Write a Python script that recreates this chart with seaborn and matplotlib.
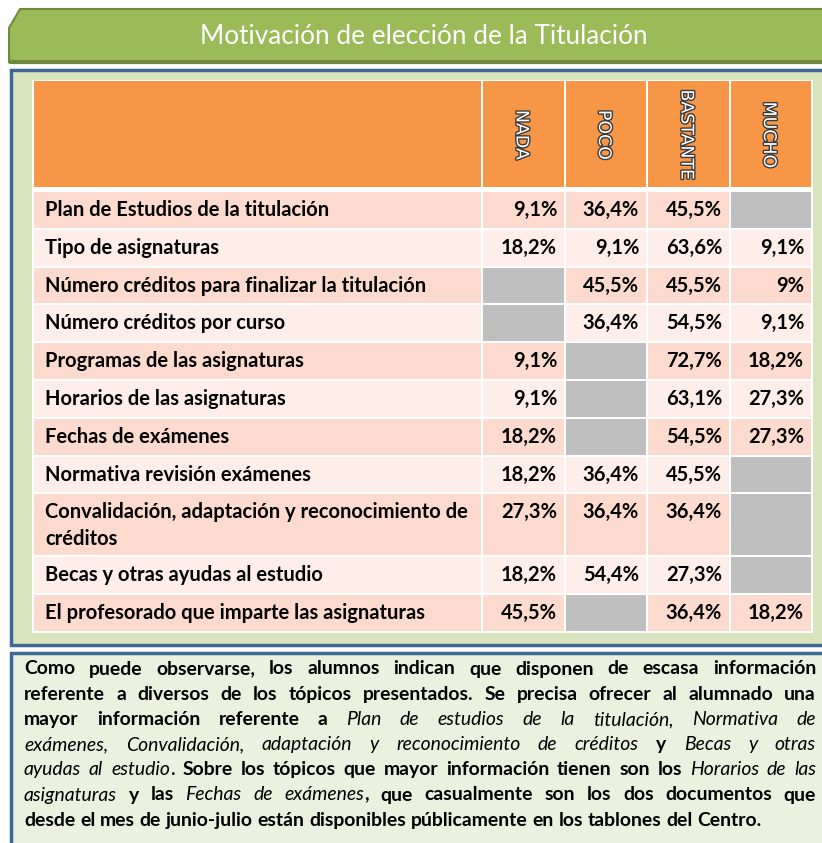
import matplotlib
matplotlib.use("Agg")
import matplotlib.pyplot as plt
import matplotlib.patches as mpatches
import matplotlib.patheffects as pe
import seaborn as sns

# ---- datos ----
TITLE = "Motivación de elección de la Titulación"
COLUMNS = ["NADA", "POCO", "BASTANTE", "MUCHO"]
TOPICS = [
    "Plan de Estudios de la titulación",
    "Tipo de asignaturas",
    "Número créditos para finalizar la titulación",
    "Número créditos por curso",
    "Programas de las asignaturas",
    "Horarios de las asignaturas",
    "Fechas de exámenes",
    "Normativa revisión exámenes",
    "Convalidación, adaptación y reconocimiento de\ncréditos",
    "Becas y otras ayudas al estudio",
    "El profesorado que imparte las asignaturas",
]
NADA = [9.1, 18.2, None, None, 9.1, 9.1, 18.2, 18.2, 27.3, 18.2, 45.5]
POCO = [36.4, 9.1, 45.5, 36.4, None, None, None, 36.4, 36.4, 54.4, None]
BASTANTE = [45.5, 63.6, 45.5, 54.5, 72.7, 63.1, 54.5, 45.5, 36.4, 27.3, 36.4]
MUCHO = [None, 9.1, 9.0, 9.1, 18.2, 27.3, 27.3, None, None, None, 18.2]

# texto: '*' alterna cursiva
PARAGRAPH = [
    "Como puede observarse, los alumnos indican que disponen de escasa información",
    "referente a diversos de los tópicos presentados. Se precisa ofrecer al alumnado una",
    "mayor información referente a *Plan de estudios de la titulación, Normativa de",
    "exámenes, Convalidación, adaptación y reconocimiento de créditos* y *Becas y otras",
    "ayudas al estudio*. Sobre los tópicos que mayor información tienen son los *Horarios de las",
    "asignaturas* y las *Fechas de exámenes*, que casualmente son los dos documentos que",
    "desde el mes de junio-julio están disponibles públicamente en los tablones del Centro.",
]

GREEN = "#9BBB59"
GREEN_DARK = "#71893F"
BLUE = "#3F6797"
BOX_FILL = "#D8E4BD"
NOTE_FILL = "#EBF1DE"
ORANGE = "#F79646"
ROW_DARK = "#FCDBCE"
ROW_LIGHT = "#FDEEE9"
GREY = "#BFBFBF"

sns.set_theme(style="white")
plt.rcParams['font.family'] = ['Lato', 'DejaVu Sans']

W, H = 822, 843
fig = plt.figure(figsize=(W / 100, H / 100), dpi=100)
ax = fig.add_axes([0, 0, 1, 1])
ax.set_xlim(0, W)
ax.set_ylim(H, 0)
ax.axis('off')
renderer = fig.canvas.get_renderer()


def text_width(s, **kw):
    t = ax.text(0, 0, s, **kw)
    w = t.get_window_extent(renderer).width
    t.remove()
    return w


def fit_size(s, target, **kw):
    return 10 * target / text_width(s, fontsize=10, **kw)


def fmt(v):
    return f"{v:g}".replace(".", ",") + "%"


# ---- banner del título ----
banner = mpatches.Polygon([(9, 62), (9, 28), (20, 9), (840, 9), (840, 62)], closed=True,
                          facecolor=GREEN, edgecolor=GREEN_DARK, lw=1.5)
ax.add_patch(banner)
ax.plot([9, 840], [62, 62], color=GREEN_DARK, lw=3, solid_capstyle='butt')
title_size = fit_size(TITLE, 448)
ax.text(424, 37, TITLE, color='white', fontsize=title_size, ha='center', va='center')

# ---- caja de la tabla ----
ax.add_patch(mpatches.Rectangle((11, 70), 840, 575, facecolor=BOX_FILL, edgecolor=BLUE, lw=2.5))

col_edges = [33, 482, 565, 647, 730, 812]
header_top, header_bot = 81, 187
first_row = 191
single_h, double_h = 37.8, 63

row_tops = []
y = first_row
for topic in TOPICS:
    row_tops.append(y)
    y += double_h if "\n" in topic else single_h
table_bot = y

ax.add_patch(mpatches.Rectangle((col_edges[0] - 1, header_top - 1), col_edges[-1] - col_edges[0] + 2,
                                table_bot - header_top + 2, facecolor='white', lw=0))

# cabecera
for j in range(len(col_edges) - 1):
    x0, x1 = col_edges[j], col_edges[j + 1]
    ax.add_patch(mpatches.Rectangle((x0 + 1, header_top), x1 - x0 - 2, header_bot - header_top,
                                    facecolor=ORANGE, lw=0))
for j, name in enumerate(COLUMNS):
    cx = (col_edges[j + 1] + col_edges[j + 2]) / 2 - 2
    ax.text(cx, (header_top + header_bot) / 2 + 1, name, rotation=270, ha='center', va='center',
            color='white', fontsize=12.5, family='DejaVu Sans',
            path_effects=[pe.withStroke(linewidth=2, foreground='#3a3a3a')])

label_size = fit_size("Número créditos para finalizar la titulación", 380, weight='bold')
values = [NADA, POCO, BASTANTE, MUCHO]

for i, topic in enumerate(TOPICS):
    top = row_tops[i]
    h = double_h if "\n" in topic else single_h
    fill = ROW_DARK if i % 2 == 0 else ROW_LIGHT
    ax.add_patch(mpatches.Rectangle((col_edges[0] + 1, top + 1), col_edges[1] - col_edges[0] - 2, h - 2,
                                    facecolor=fill, lw=0))
    for k, line in enumerate(topic.split("\n")):
        ax.text(45, top + 19 + 27 * k, line, fontsize=label_size, weight='bold',
                color='black', ha='left', va='center')
    for j, series in enumerate(values):
        x0, x1 = col_edges[j + 1], col_edges[j + 2]
        v = series[i]
        ax.add_patch(mpatches.Rectangle((x0 + 1, top + 1), x1 - x0 - 2, h - 2,
                                        facecolor=GREY if v is None else fill, lw=0))
        if v is not None:
            ax.text(x1 - 8, top + 19, fmt(v), fontsize=label_size, weight='bold',
                    color='black', ha='right', va='center')

# ---- caja del comentario ----
ax.add_patch(mpatches.Rectangle((11, 653), 840, 220, facecolor=NOTE_FILL, edgecolor=BLUE, lw=2.5))


def style_kw(italic):
    return dict(style='italic', weight='normal') if italic else dict(weight='bold')


para_size = fit_size(PARAGRAPH[-1], 739, **style_kw(False))
space_w = (text_width("a a", fontsize=para_size, **style_kw(False))
           - text_width("aa", fontsize=para_size, **style_kw(False)))

italic = False
x_left, x_right = 24, 816
for n, line in enumerate(PARAGRAPH):
    words = []
    for word in line.split(" "):
        pieces = []
        for k, part in enumerate(word.split("*")):
            if k > 0:
                italic = not italic
            if part:
                pieces.append((part, italic))
        words.append(pieces)
    widths = [[text_width(p, fontsize=para_size, **style_kw(it)) for p, it in w] for w in words]
    total = sum(sum(ws) for ws in widths)
    last = n == len(PARAGRAPH) - 1
    gap = space_w if last else (x_right - x_left - total) / (len(words) - 1)
    x = x_left
    y = 669 + 25.2 * n
    for pieces, ws in zip(words, widths):
        for (p, it), pw in zip(pieces, ws):
            ax.text(x, y, p, fontsize=para_size, color='black', ha='left', va='center', **style_kw(it))
            x += pw
        x += gap

fig.savefig("out.png", dpi=100)
